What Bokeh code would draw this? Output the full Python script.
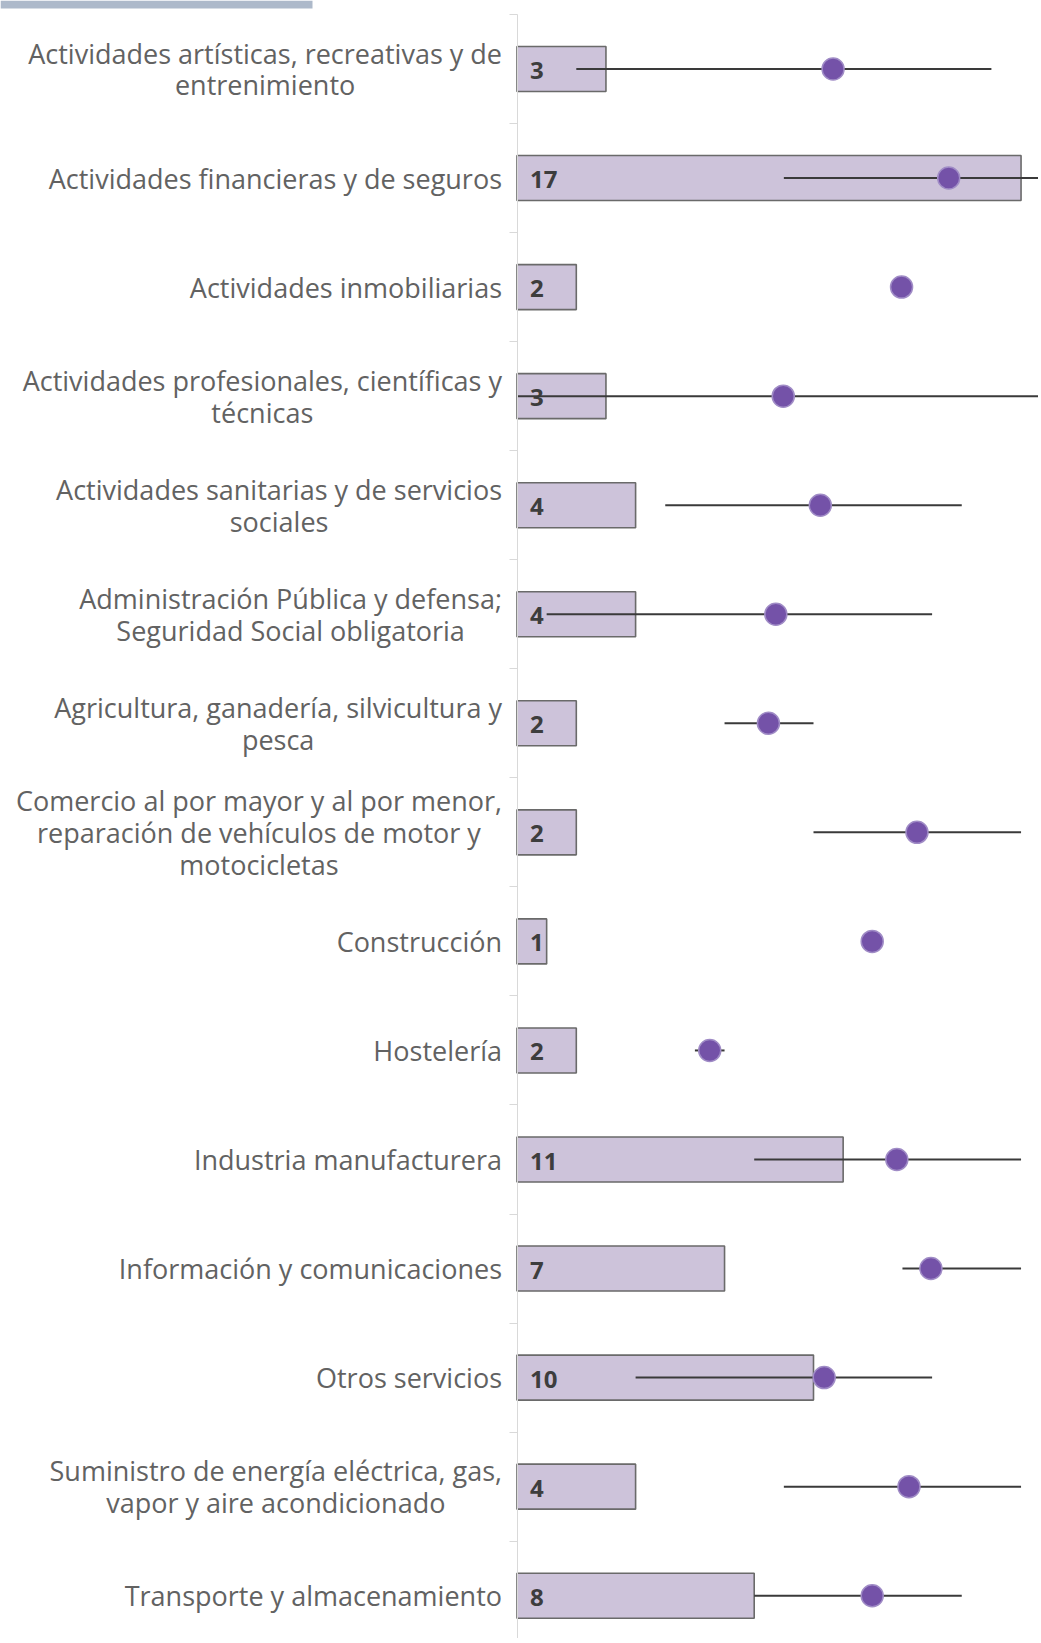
from bokeh.plotting import figure
from bokeh.models import Range1d, FixedTicker, ColumnDataSource, BoxAnnotation
from bokeh.core.properties import value
from bokeh.embed import file_html
from bokeh.resources import INLINE

nan = float("nan")

categories = [
    "Actividades artísticas, recreativas y de\nentrenimiento",
    "Actividades financieras y de seguros",
    "Actividades inmobiliarias",
    "Actividades profesionales, científicas y\ntécnicas",
    "Actividades sanitarias y de servicios\nsociales",
    "Administración Pública y defensa;\nSeguridad Social obligatoria",
    "Agricultura, ganadería, silvicultura y\npesca",
    "Comercio al por mayor y al por menor,\nreparación de vehículos de motor y\nmotocicletas",
    "Construcción",
    "Hostelería",
    "Industria manufacturera",
    "Información y comunicaciones",
    "Otros servicios",
    "Suministro de energía eléctrica, gas,\nvapor y aire acondicionado",
    "Transporte y almacenamiento",
]
counts = [3, 17, 2, 3, 4, 4, 2, 2, 1, 2, 11, 7, 10, 4, 8]
dot_values = [10.66, 14.56, 12.97, 8.98, 10.23, 8.73, 8.48, 13.49, 11.98, 6.5, 12.81, 13.96, 10.36, 13.22, 11.98]
range_low = [2, 9, nan, 0, 5, 1, 7, 10, nan, 6, 8, 13, 4, 9, 8]
range_high = [16, 20, nan, 20, 15, 14, 10, 17, nan, 7, 17, 17, 14, 17, 15]

pos = list(range(len(categories)))
src = ColumnDataSource(dict(
    y=pos, cat=categories, count=counts, label=[str(c) for c in counts],
    dot=dot_values, lo=range_low, hi=range_high, zero=[0] * len(pos),
))

W, H = 1038, 1638
axis_px = 516.5        # screen x of the value axis
px_x = 29.65           # pixels per bar unit
px_row = 109.05        # pixels per category row
first_row_px = 68.5    # screen y of first row centre

x0 = -axis_px / px_x
x1 = (W - axis_px) / px_x
top_val = -first_row_px / px_row
bot_val = top_val + H / px_row

p = figure(
    width=W, height=H, output_backend="svg", toolbar_location=None,
    x_range=Range1d(x0, x1), y_range=Range1d(bot_val, top_val),
    x_axis_location=None, min_border_left=0, min_border_right=0,
    min_border_top=0, min_border_bottom=0,
)
p.outline_line_color = None
p.xgrid.visible = False
p.ygrid.visible = False
p.background_fill_color = "white"
p.border_fill_color = "white"

# header strip
p.add_layout(BoxAnnotation(left=x0, right=x0 + 312 / px_x, top=top_val,
                           bottom=top_val + 8 / px_row, fill_color="#adb9ca",
                           fill_alpha=1, line_color=None, level="underlay"))

ax = p.yaxis[0]
ax.fixed_location = 0
ax.ticker = FixedTicker(ticks=[], minor_ticks=[i - 0.5 for i in range(len(pos) + 1)])
ax.bounds = (-0.5, len(pos) - 0.5)
ax.axis_line_color = "#d9d9d9"
ax.axis_line_width = 1
ax.major_tick_line_color = None
ax.major_label_text_font_size = "0px"
ax.minor_tick_line_color = "#d9d9d9"
ax.minor_tick_out = 8
ax.minor_tick_in = 0

# category labels: right edge near the axis, lines centred
p.text(x="zero", y="y", text="cat", source=src, x_offset=-15,
       anchor="center_right", text_align="center",
       text_font=value("Open Sans"), text_font_size="27px",
       text_color="#626262", text_line_height=0.86)

p.hbar(y="y", left="zero", right="count", height=0.413, source=src,
       fill_color="#cdc3da", line_color="#6a6a6a", line_width=1.6)
p.text(x="zero", y="y", text="label", source=src, x_offset=13, y_offset=1.5,
       text_font=value("Open Sans"), text_font_style="bold",
       text_font_size="24px", text_color="#3d3d3d",
       text_baseline="middle", text_align="left")
p.segment(x0="lo", y0="y", x1="hi", y1="y", source=src,
          line_color="#3a3a3a", line_width=2)
p.scatter(x="dot", y="y", source=src, size=22, fill_color="#7452a8",
          line_color="#a08cc6", line_width=1.5)

open("out.html", "w").write(file_html(p, INLINE))
